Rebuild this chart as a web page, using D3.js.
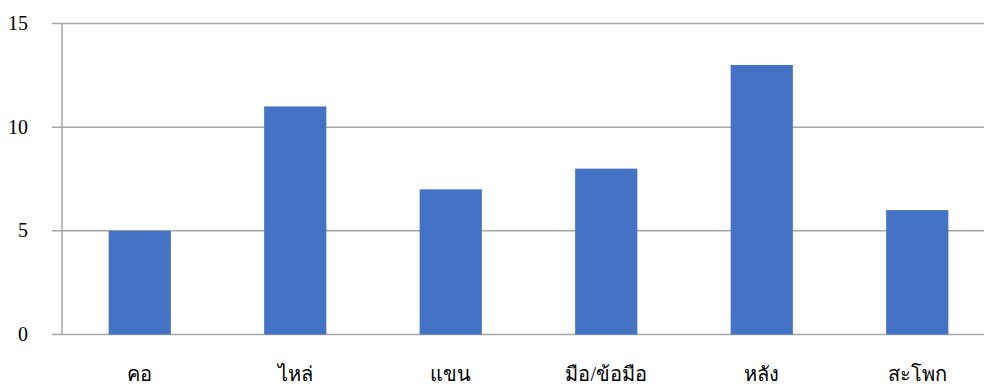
<!DOCTYPE html>
<html>
<head>
<meta charset="utf-8">
<script src="https://cdn.jsdelivr.net/npm/d3@7"></script>
<style>
  body { margin: 0; background: #fff; }
  svg { display: block; }
  .num { font-family: "Times New Roman", "Liberation Serif", Times, serif; font-size: 20px; }
  .cat { font-family: "Times New Roman", "Liberation Serif", serif; font-size: 20px; }
</style>
</head>
<body>
<svg id="chart" width="984" height="385"></svg>
<script>
const categories = ["คอ", "ไหล่", "แขน", "มือ/ข้อมือ", "หลัง", "สะโพก"];
const values = [5, 11, 7, 8, 13, 6];
const yTicks = [0, 5, 10, 15];

const svg = d3.select("#chart");
const plotLeft = 62, plotRight = 984, plotTop = 23.5, plotBottom = 334.5;

// category area runs a bit past the right edge of the picture
const x = d3.scaleBand().domain(categories).range([plotLeft, 995])
  .paddingInner(0.6).paddingOuter(0.3);
const y = d3.scaleLinear().domain([0, 15]).range([plotBottom, plotTop]);

// gridlines
svg.selectAll(".grid").data(yTicks).enter().append("line")
  .attr("x1", plotLeft - 10).attr("x2", plotRight)
  .attr("y1", d => y(d)).attr("y2", d => y(d))
  .attr("stroke", "#a6a6a6").attr("stroke-width", 1.5);

// y axis line
svg.append("line")
  .attr("x1", plotLeft).attr("x2", plotLeft)
  .attr("y1", plotTop).attr("y2", plotBottom)
  .attr("stroke", "#a6a6a6").attr("stroke-width", 1.5);

svg.selectAll(".ylab").data(yTicks).enter().append("text")
  .attr("class", "num")
  .attr("x", 28).attr("y", d => y(d))
  .attr("dy", "0.33em")
  .attr("text-anchor", "end")
  .attr("fill", "#000")
  .text(d => d);

// bars
svg.selectAll(".bar").data(values).enter().append("rect")
  .attr("x", (d, i) => x(categories[i]))
  .attr("width", x.bandwidth())
  .attr("y", d => y(d))
  .attr("height", d => y(0) - y(d))
  .attr("fill", "#4472c4");

svg.selectAll(".xlab").data(categories).enter().append("text")
  .attr("class", "cat")
  .attr("x", d => x(d) + x.bandwidth() / 2)
  .attr("y", 381)
  .attr("text-anchor", "middle")
  .attr("fill", "#000")
  .text(d => d);
</script>
</body>
</html>
